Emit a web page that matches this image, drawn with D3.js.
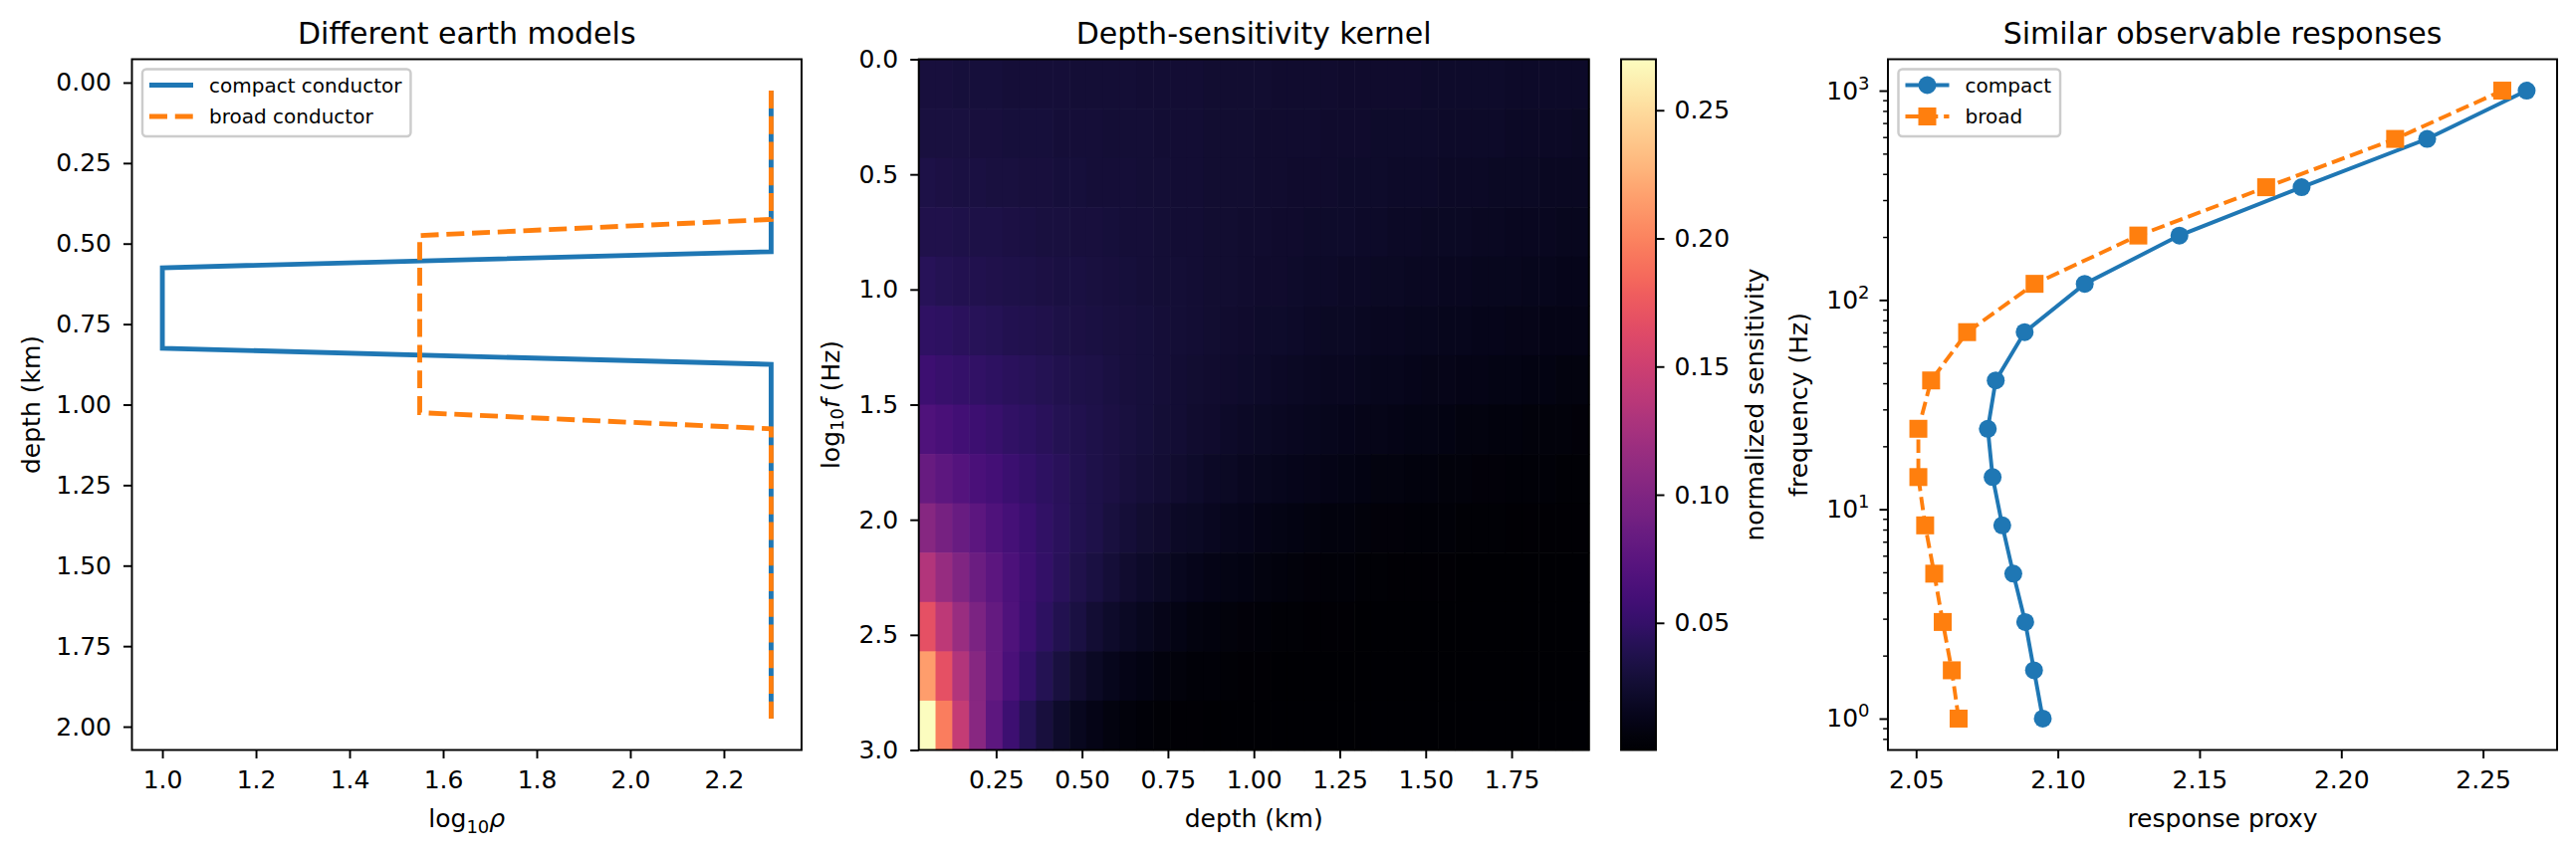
<!DOCTYPE html>
<html>
<head>
<meta charset="utf-8">
<script src="https://cdn.jsdelivr.net/npm/d3@7"></script>
<style>
	body { margin: 0; background: #ffffff; }
	text { font-family: "DejaVu Sans", sans-serif; fill: #000000; }
</style>
</head>
<body>
<div id="chart-area"></div>
<script>

// ---- Data ----

// Depth grid (km) shared by both earth models and by the kernel columns
var depthKm = [0.025, 0.075, 0.125, 0.175, 0.225, 0.275, 0.325, 0.375, 0.425, 0.475,
	0.525, 0.575, 0.625, 0.675, 0.725, 0.775, 0.825, 0.875, 0.925, 0.975,
	1.025, 1.075, 1.125, 1.175, 1.225, 1.275, 1.325, 1.375, 1.425, 1.475,
	1.525, 1.575, 1.625, 1.675, 1.725, 1.775, 1.825, 1.875, 1.925, 1.975];

// log10 resistivity of the two models, one value per depth
var compactLogRho = [2.301, 2.301, 2.301, 2.301, 2.301, 2.301, 2.301, 2.301, 2.301, 2.301,
	2.301, 1.0, 1.0, 1.0, 1.0, 1.0, 1.0, 2.301, 2.301, 2.301,
	2.301, 2.301, 2.301, 2.301, 2.301, 2.301, 2.301, 2.301, 2.301, 2.301,
	2.301, 2.301, 2.301, 2.301, 2.301, 2.301, 2.301, 2.301, 2.301, 2.301];
var broadLogRho = [2.301, 2.301, 2.301, 2.301, 2.301, 2.301, 2.301, 2.301, 2.301, 1.55,
	1.55, 1.55, 1.55, 1.55, 1.55, 1.55, 1.55, 1.55, 1.55, 1.55,
	1.55, 2.301, 2.301, 2.301, 2.301, 2.301, 2.301, 2.301, 2.301, 2.301,
	2.301, 2.301, 2.301, 2.301, 2.301, 2.301, 2.301, 2.301, 2.301, 2.301];

// Frequencies (Hz), low to high
var freqHz = [1, 1.701, 2.894, 4.924, 8.377, 14.25, 24.24, 41.25, 70.17, 119.4, 203.1, 345.5, 587.8, 1000];

// Response proxy of each model at those frequencies
var compactResp = [2.0947, 2.0916, 2.0885, 2.0843, 2.0804, 2.0770, 2.0753, 2.0781, 2.0883, 2.1095, 2.1429, 2.1860, 2.2303, 2.2654];
var broadResp   = [2.0650, 2.0626, 2.0594, 2.0564, 2.0532, 2.0508, 2.0508, 2.0553, 2.0680, 2.0918, 2.1284, 2.1735, 2.2190, 2.2568];

// Normalized sensitivity: one row per frequency (top row = 1 Hz), one column per depth cell
var kernel = [
	[0.0302,0.0299,0.0296,0.0293,0.0290,0.0287,0.0284,0.0281,0.0279,0.0276,0.0273,0.0270,0.0268,0.0265,0.0262,0.0260,0.0257,0.0255,0.0252,0.0250,0.0247,0.0245,0.0242,0.0240,0.0238,0.0235,0.0233,0.0231,0.0228,0.0226,0.0224,0.0222,0.0219,0.0217,0.0215,0.0213,0.0211,0.0209,0.0207,0.0205],
	[0.0318,0.0314,0.0310,0.0306,0.0302,0.0298,0.0295,0.0291,0.0287,0.0283,0.0280,0.0276,0.0273,0.0269,0.0266,0.0262,0.0259,0.0255,0.0252,0.0249,0.0246,0.0243,0.0239,0.0236,0.0233,0.0230,0.0227,0.0224,0.0221,0.0219,0.0216,0.0213,0.0210,0.0208,0.0205,0.0202,0.0200,0.0197,0.0195,0.0192],
	[0.0341,0.0335,0.0330,0.0324,0.0319,0.0313,0.0308,0.0303,0.0298,0.0293,0.0288,0.0283,0.0278,0.0274,0.0269,0.0265,0.0260,0.0256,0.0252,0.0247,0.0243,0.0239,0.0235,0.0231,0.0227,0.0224,0.0220,0.0216,0.0212,0.0209,0.0205,0.0202,0.0199,0.0195,0.0192,0.0189,0.0186,0.0182,0.0179,0.0176],
	[0.0372,0.0364,0.0356,0.0349,0.0341,0.0333,0.0326,0.0319,0.0312,0.0305,0.0299,0.0292,0.0286,0.0280,0.0273,0.0267,0.0262,0.0256,0.0250,0.0245,0.0240,0.0234,0.0229,0.0224,0.0219,0.0215,0.0210,0.0205,0.0201,0.0196,0.0192,0.0188,0.0184,0.0180,0.0176,0.0172,0.0168,0.0165,0.0161,0.0157],
	[0.0415,0.0403,0.0392,0.0381,0.0370,0.0359,0.0349,0.0339,0.0330,0.0320,0.0311,0.0302,0.0294,0.0285,0.0277,0.0270,0.0262,0.0254,0.0247,0.0240,0.0233,0.0227,0.0220,0.0214,0.0208,0.0202,0.0196,0.0191,0.0185,0.0180,0.0175,0.0170,0.0165,0.0161,0.0156,0.0152,0.0147,0.0143,0.0139,0.0135],
	[0.0474,0.0457,0.0440,0.0424,0.0408,0.0393,0.0378,0.0364,0.0351,0.0338,0.0326,0.0314,0.0302,0.0291,0.0280,0.0270,0.0260,0.0250,0.0241,0.0232,0.0224,0.0216,0.0208,0.0200,0.0193,0.0185,0.0179,0.0172,0.0166,0.0160,0.0154,0.0148,0.0143,0.0137,0.0132,0.0127,0.0123,0.0118,0.0114,0.0110],
	[0.0556,0.0530,0.0504,0.0480,0.0457,0.0436,0.0415,0.0395,0.0376,0.0358,0.0341,0.0325,0.0309,0.0294,0.0280,0.0267,0.0254,0.0242,0.0230,0.0219,0.0209,0.0199,0.0189,0.0180,0.0172,0.0164,0.0156,0.0148,0.0141,0.0134,0.0128,0.0122,0.0116,0.0111,0.0105,0.0100,0.0095,0.0091,0.0087,0.0082],
	[0.0671,0.0629,0.0590,0.0554,0.0520,0.0487,0.0457,0.0429,0.0402,0.0378,0.0354,0.0332,0.0312,0.0292,0.0274,0.0257,0.0242,0.0227,0.0213,0.0199,0.0187,0.0176,0.0165,0.0154,0.0145,0.0136,0.0128,0.0120,0.0112,0.0105,0.0099,0.0093,0.0087,0.0082,0.0077,0.0072,0.0067,0.0063,0.0059,0.0056],
	[0.0829,0.0763,0.0702,0.0646,0.0594,0.0547,0.0503,0.0463,0.0426,0.0392,0.0360,0.0332,0.0305,0.0281,0.0258,0.0238,0.0219,0.0201,0.0185,0.0170,0.0157,0.0144,0.0133,0.0122,0.0112,0.0103,0.0095,0.0087,0.0080,0.0074,0.0068,0.0063,0.0058,0.0053,0.0049,0.0045,0.0041,0.0038,0.0035,0.0032],
	[0.1044,0.0936,0.0840,0.0753,0.0676,0.0606,0.0544,0.0488,0.0437,0.0392,0.0352,0.0316,0.0283,0.0254,0.0228,0.0204,0.0183,0.0164,0.0148,0.0132,0.0119,0.0107,0.0096,0.0086,0.0077,0.0069,0.0062,0.0056,0.0050,0.0045,0.0040,0.0036,0.0032,0.0029,0.0026,0.0023,0.0021,0.0019,0.0017,0.0015],
	[0.1325,0.1150,0.0998,0.0866,0.0752,0.0653,0.0567,0.0492,0.0427,0.0371,0.0322,0.0279,0.0242,0.0210,0.0183,0.0158,0.0138,0.0119,0.0104,0.0090,0.0078,0.0068,0.0059,0.0051,0.0044,0.0038,0.0033,0.0029,0.0025,0.0022,0.0019,0.0016,0.0014,0.0012,0.0011,0.0009,0.0008,0.0007,0.0006,0.0005],
	[0.1688,0.1404,0.1167,0.0970,0.0806,0.0670,0.0557,0.0463,0.0385,0.0320,0.0266,0.0221,0.0184,0.0153,0.0127,0.0106,0.0088,0.0073,0.0061,0.0050,0.0042,0.0035,0.0029,0.0024,0.0020,0.0017,0.0014,0.0012,0.0010,0.0008,0.0007,0.0006,0.0005,0.0004,0.0004,0.0004,0.0004,0.0004,0.0004,0.0004],
	[0.2142,0.1683,0.1323,0.1039,0.0817,0.0642,0.0504,0.0396,0.0311,0.0245,0.0192,0.0151,0.0119,0.0093,0.0073,0.0058,0.0045,0.0036,0.0028,0.0022,0.0017,0.0014,0.0011,0.0008,0.0007,0.0005,0.0004,0.0004,0.0004,0.0004,0.0004,0.0004,0.0004,0.0004,0.0004,0.0004,0.0004,0.0004,0.0004,0.0004],
	[0.2699,0.1970,0.1439,0.1050,0.0767,0.0560,0.0409,0.0299,0.0218,0.0159,0.0116,0.0085,0.0062,0.0045,0.0033,0.0024,0.0018,0.0013,0.0009,0.0007,0.0005,0.0004,0.0004,0.0004,0.0004,0.0004,0.0004,0.0004,0.0004,0.0004,0.0004,0.0004,0.0004,0.0004,0.0004,0.0004,0.0004,0.0004,0.0004,0.0004]
];

// Extent of the kernel image
var kernelDepthExtent = [0.025, 1.975];
var kernelLogFExtent  = [0, 3];

// Tick values
var depthTicks       = [0, 0.25, 0.5, 0.75, 1.0, 1.25, 1.5, 1.75, 2.0];
var logRhoTicks      = [1.0, 1.2, 1.4, 1.6, 1.8, 2.0, 2.2];
var kernelDepthTicks = [0.25, 0.5, 0.75, 1.0, 1.25, 1.5, 1.75];
var logFTicks        = [0, 0.5, 1.0, 1.5, 2.0, 2.5, 3.0];
var sensTicks        = [0.05, 0.10, 0.15, 0.20, 0.25];
var respTicks        = [2.05, 2.10, 2.15, 2.20, 2.25];
var freqTicks        = [1, 10, 100, 1000];


// ---- Layout ----
var W = 2587, H = 858;
var pt = 2.43;                      // pixels per point
var axTop = 59.5, axBottom = 753.5;
var panelA = [132.5, 805];
var panelB = [922.7, 1595.7];
var cbar   = [1628, 1663];
var panelC = [1896, 2568];

var blue = '#1f77b4', orange = '#ff7f0e';
var tickFont = 25, labelFont = 25, titleFont = 30, legendFont = 20;
var tickLen = 8.5, tickPad = 12;
var markR = 9;

var svg = d3.select('#chart-area')
	.append('svg')
		.attr('width', W)
		.attr('height', H);


// Pad a numeric extent by 5% on both sides, like matplotlib's autoscale
function padded(ext) {
	var m = (ext[1] - ext[0]) * 0.05;
	return [ext[0] - m, ext[1] + m];
}

// Common tick styling after an axis call
function styleAxis(g) {
	g.select('.domain').remove();
	g.selectAll('.tick line').attr('stroke', '#000').attr('stroke-width', 0.8 * pt);
	g.selectAll('.tick text').attr('font-size', tickFont).attr('font-family', '"DejaVu Sans", sans-serif').attr('fill', '#000');
}

function frame(x0, x1) {
	svg.append('rect')
		.attr('x', x0).attr('y', axTop)
		.attr('width', x1 - x0).attr('height', axBottom - axTop)
		.attr('fill', 'none')
		.attr('stroke', '#000')
		.attr('stroke-width', 0.8 * pt);
}

function title(x0, x1, txt) {
	svg.append('text')
		.attr('x', (x0 + x1) / 2)
		.attr('y', 44)
		.attr('text-anchor', 'middle')
		.attr('font-size', titleFont)
		.text(txt);
}

function xLabel(x0, x1) {
	return svg.append('text')
		.attr('x', (x0 + x1) / 2)
		.attr('y', 831)
		.attr('text-anchor', 'middle')
		.attr('font-size', labelFont);
}

function yLabel(cx) {
	return svg.append('text')
		.attr('transform', 'translate(' + cx + ',' + ((axTop + axBottom) / 2) + ') rotate(-90)')
		.attr('text-anchor', 'middle')
		.attr('dominant-baseline', 'central')
		.attr('font-size', labelFont);
}

// Legend box in the upper-left corner of an axes
function legend(x0, items) {
	var lx = x0 + 10.5, ly = axTop + 10;
	var lg = svg.append('g').attr('transform', 'translate(' + lx + ',' + ly + ')');
	var box = lg.append('rect')
		.attr('rx', 4).attr('ry', 4)
		.attr('height', 67.5)
		.attr('fill', 'rgba(255,255,255,0.8)')
		.attr('stroke', '#cccccc')
		.attr('stroke-width', 1.0 * pt);
	var maxW = 0;
	items.forEach(function(it, i) {
		var cy = 16 + i * 31.5;
		lg.append('line')
			.attr('x1', 7).attr('x2', 51)
			.attr('y1', cy).attr('y2', cy)
			.attr('stroke', it.color)
			.attr('stroke-width', it.width)
			.attr('stroke-dasharray', it.dash);
		if (it.marker === 'circle') {
			lg.append('circle').attr('cx', 29).attr('cy', cy).attr('r', markR).attr('fill', it.color);
		} else if (it.marker === 'square') {
			lg.append('rect').attr('x', 29 - markR).attr('y', cy - markR).attr('width', 2 * markR).attr('height', 2 * markR).attr('fill', it.color);
		}
		var t = lg.append('text')
			.attr('x', 67).attr('y', cy)
			.attr('dominant-baseline', 'central')
			.attr('font-size', legendFont)
			.text(it.label);
		maxW = Math.max(maxW, t.node().getComputedTextLength());
	});
	box.attr('width', 67 + maxW + 9);
}


// ================= Panel A: earth models =================
var xA = d3.scaleLinear()
	.domain(padded(d3.extent(compactLogRho.concat(broadLogRho))))
	.range(panelA);
var yA = d3.scaleLinear()
	.domain(padded(d3.extent(depthKm)))
	.range([axTop, axBottom]);

var lineA = function(vals) {
	return d3.line()
		.x(function(d, i) { return xA(vals[i]); })
		.y(function(d) { return yA(d); })(depthKm);
};

svg.append('path')
	.attr('d', lineA(compactLogRho))
	.attr('fill', 'none')
	.attr('stroke', blue)
	.attr('stroke-width', 2 * pt);

svg.append('path')
	.attr('d', lineA(broadLogRho))
	.attr('fill', 'none')
	.attr('stroke', orange)
	.attr('stroke-width', 2 * pt)
	.attr('stroke-dasharray', (7.4 * pt) + ',' + (3.2 * pt));

svg.append('g')
	.attr('transform', 'translate(0,' + axBottom + ')')
	.call(d3.axisBottom(xA).tickValues(logRhoTicks).tickFormat(d3.format('.1f')).tickSize(tickLen).tickPadding(tickPad))
	.call(styleAxis);
svg.append('g')
	.attr('transform', 'translate(' + panelA[0] + ',0)')
	.call(d3.axisLeft(yA).tickValues(depthTicks).tickFormat(d3.format('.2f')).tickSize(tickLen).tickPadding(tickPad))
	.call(styleAxis);

frame(panelA[0], panelA[1]);
title(panelA[0], panelA[1], 'Different earth models');

var xlA = xLabel(panelA[0], panelA[1]);
xlA.append('tspan').text('log');
xlA.append('tspan').attr('font-size', 18).attr('dy', 6).text('10');
xlA.append('tspan').attr('dy', -6).attr('font-style', 'italic').text('\u03c1');
yLabel(31).text('depth (km)');

legend(panelA[0], [
	{ label: 'compact conductor', color: blue, width: 2 * pt, dash: null },
	{ label: 'broad conductor', color: orange, width: 2 * pt, dash: (7.4 * pt) + ',' + (3.2 * pt) }
]);


// ================= Panel B: sensitivity kernel =================
var xB = d3.scaleLinear().domain(kernelDepthExtent).range(panelB);
var yB = d3.scaleLinear().domain(kernelLogFExtent).range([axTop, axBottom]);

var colBand = d3.scaleBand().domain(d3.range(depthKm.length)).range([xB(kernelDepthExtent[0]), xB(kernelDepthExtent[1])]);
var rowBand = d3.scaleBand().domain(d3.range(freqHz.length)).range([yB(kernelLogFExtent[0]), yB(kernelLogFExtent[1])]);

var allVals = d3.merge(kernel);
var color = d3.scaleSequential(d3.interpolateMagma).domain(d3.extent(allVals));

var cells = [];
kernel.forEach(function(row, i) {
	row.forEach(function(v, j) { cells.push({ i: i, j: j, v: v }); });
});

svg.append('g')
	.selectAll('rect')
	.data(cells)
	.enter()
	.append('rect')
		.attr('x', function(d) { return colBand(d.j); })
		.attr('y', function(d) { return rowBand(d.i); })
		.attr('width', colBand.bandwidth() + 0.6)
		.attr('height', rowBand.bandwidth() + 0.6)
		.attr('fill', function(d) { return color(d.v); });

svg.append('g')
	.attr('transform', 'translate(0,' + axBottom + ')')
	.call(d3.axisBottom(xB).tickValues(kernelDepthTicks).tickFormat(d3.format('.2f')).tickSize(tickLen).tickPadding(tickPad))
	.call(styleAxis);
svg.append('g')
	.attr('transform', 'translate(' + panelB[0] + ',0)')
	.call(d3.axisLeft(yB).tickValues(logFTicks).tickFormat(d3.format('.1f')).tickSize(tickLen).tickPadding(tickPad))
	.call(styleAxis);

frame(panelB[0], panelB[1]);
title(panelB[0], panelB[1], 'Depth-sensitivity kernel');
xLabel(panelB[0], panelB[1]).text('depth (km)');

var ylB = yLabel(834);
ylB.append('tspan').text('log');
ylB.append('tspan').attr('font-size', 18).attr('dy', 6).text('10');
ylB.append('tspan').attr('dy', -6).attr('font-style', 'italic').text('f');
ylB.append('tspan').text(' (Hz)');


// Colorbar
var cScale = d3.scaleLinear().domain(color.domain()).range([axBottom, axTop]);
var grad = svg.append('defs').append('linearGradient')
	.attr('id', 'cbar-grad')
	.attr('x1', 0).attr('x2', 0).attr('y1', 1).attr('y2', 0);
d3.range(0, 1.0001, 0.02).forEach(function(t) {
	grad.append('stop').attr('offset', t).attr('stop-color', d3.interpolateMagma(t));
});
svg.append('rect')
	.attr('x', cbar[0]).attr('y', axTop)
	.attr('width', cbar[1] - cbar[0]).attr('height', axBottom - axTop)
	.attr('fill', 'url(#cbar-grad)');
svg.append('g')
	.attr('transform', 'translate(' + cbar[1] + ',0)')
	.call(d3.axisRight(cScale).tickValues(sensTicks).tickFormat(d3.format('.2f')).tickSize(tickLen).tickPadding(tickPad - 2))
	.call(styleAxis);
frame(cbar[0], cbar[1]);
yLabel(1762).text('normalized sensitivity');


// ================= Panel C: responses =================
var xC = d3.scaleLinear()
	.domain(padded(d3.extent(compactResp.concat(broadResp))))
	.range(panelC);
var logExt = padded(d3.extent(freqHz).map(Math.log10));
var yC = d3.scaleLog()
	.domain([Math.pow(10, logExt[0]), Math.pow(10, logExt[1])])
	.range([axBottom, axTop]);

function seriesLine(vals) {
	return d3.line()
		.x(function(d, i) { return xC(vals[i]); })
		.y(function(d) { return yC(d); })(freqHz);
}

svg.append('path')
	.attr('d', seriesLine(compactResp))
	.attr('fill', 'none')
	.attr('stroke', blue)
	.attr('stroke-width', 1.6 * pt);
svg.append('g').selectAll('circle')
	.data(freqHz)
	.enter()
	.append('circle')
		.attr('cx', function(d, i) { return xC(compactResp[i]); })
		.attr('cy', function(d) { return yC(d); })
		.attr('r', markR)
		.attr('fill', blue);

svg.append('path')
	.attr('d', seriesLine(broadResp))
	.attr('fill', 'none')
	.attr('stroke', orange)
	.attr('stroke-width', 1.6 * pt)
	.attr('stroke-dasharray', (5.55 * pt) + ',' + (2.4 * pt));
svg.append('g').selectAll('rect')
	.data(freqHz)
	.enter()
	.append('rect')
		.attr('x', function(d, i) { return xC(broadResp[i]) - markR; })
		.attr('y', function(d) { return yC(d) - markR; })
		.attr('width', 2 * markR)
		.attr('height', 2 * markR)
		.attr('fill', orange);

svg.append('g')
	.attr('transform', 'translate(0,' + axBottom + ')')
	.call(d3.axisBottom(xC).tickValues(respTicks).tickFormat(d3.format('.2f')).tickSize(tickLen).tickPadding(tickPad))
	.call(styleAxis);

// minor log ticks
svg.append('g')
	.attr('transform', 'translate(' + panelC[0] + ',0)')
	.call(d3.axisLeft(yC)
		.tickValues(yC.ticks().filter(function(d) { return freqTicks.indexOf(d) < 0; }))
		.tickFormat('').tickSize(2 * pt))
	.call(styleAxis)
	.selectAll('.tick line').attr('stroke-width', 0.6 * pt);

var yAxC = svg.append('g')
	.attr('transform', 'translate(' + panelC[0] + ',0)')
	.call(d3.axisLeft(yC).tickValues(freqTicks).tickFormat('').tickSize(tickLen).tickPadding(tickPad - 2))
	.call(styleAxis);
yAxC.selectAll('.tick text').each(function(d) {
	var t = d3.select(this);
	t.append('tspan').text('10');
	t.append('tspan').attr('dy', -10).attr('font-size', 18).text(Math.round(Math.log10(d)));
});

frame(panelC[0], panelC[1]);
title(panelC[0], panelC[1], 'Similar observable responses');
xLabel(panelC[0], panelC[1]).text('response proxy');
yLabel(1806).text('frequency (Hz)');

legend(panelC[0], [
	{ label: 'compact', color: blue, width: 1.6 * pt, dash: null, marker: 'circle' },
	{ label: 'broad', color: orange, width: 1.6 * pt, dash: (5.55 * pt) + ',' + (2.4 * pt), marker: 'square' }
]);

</script>
</body>
</html>
